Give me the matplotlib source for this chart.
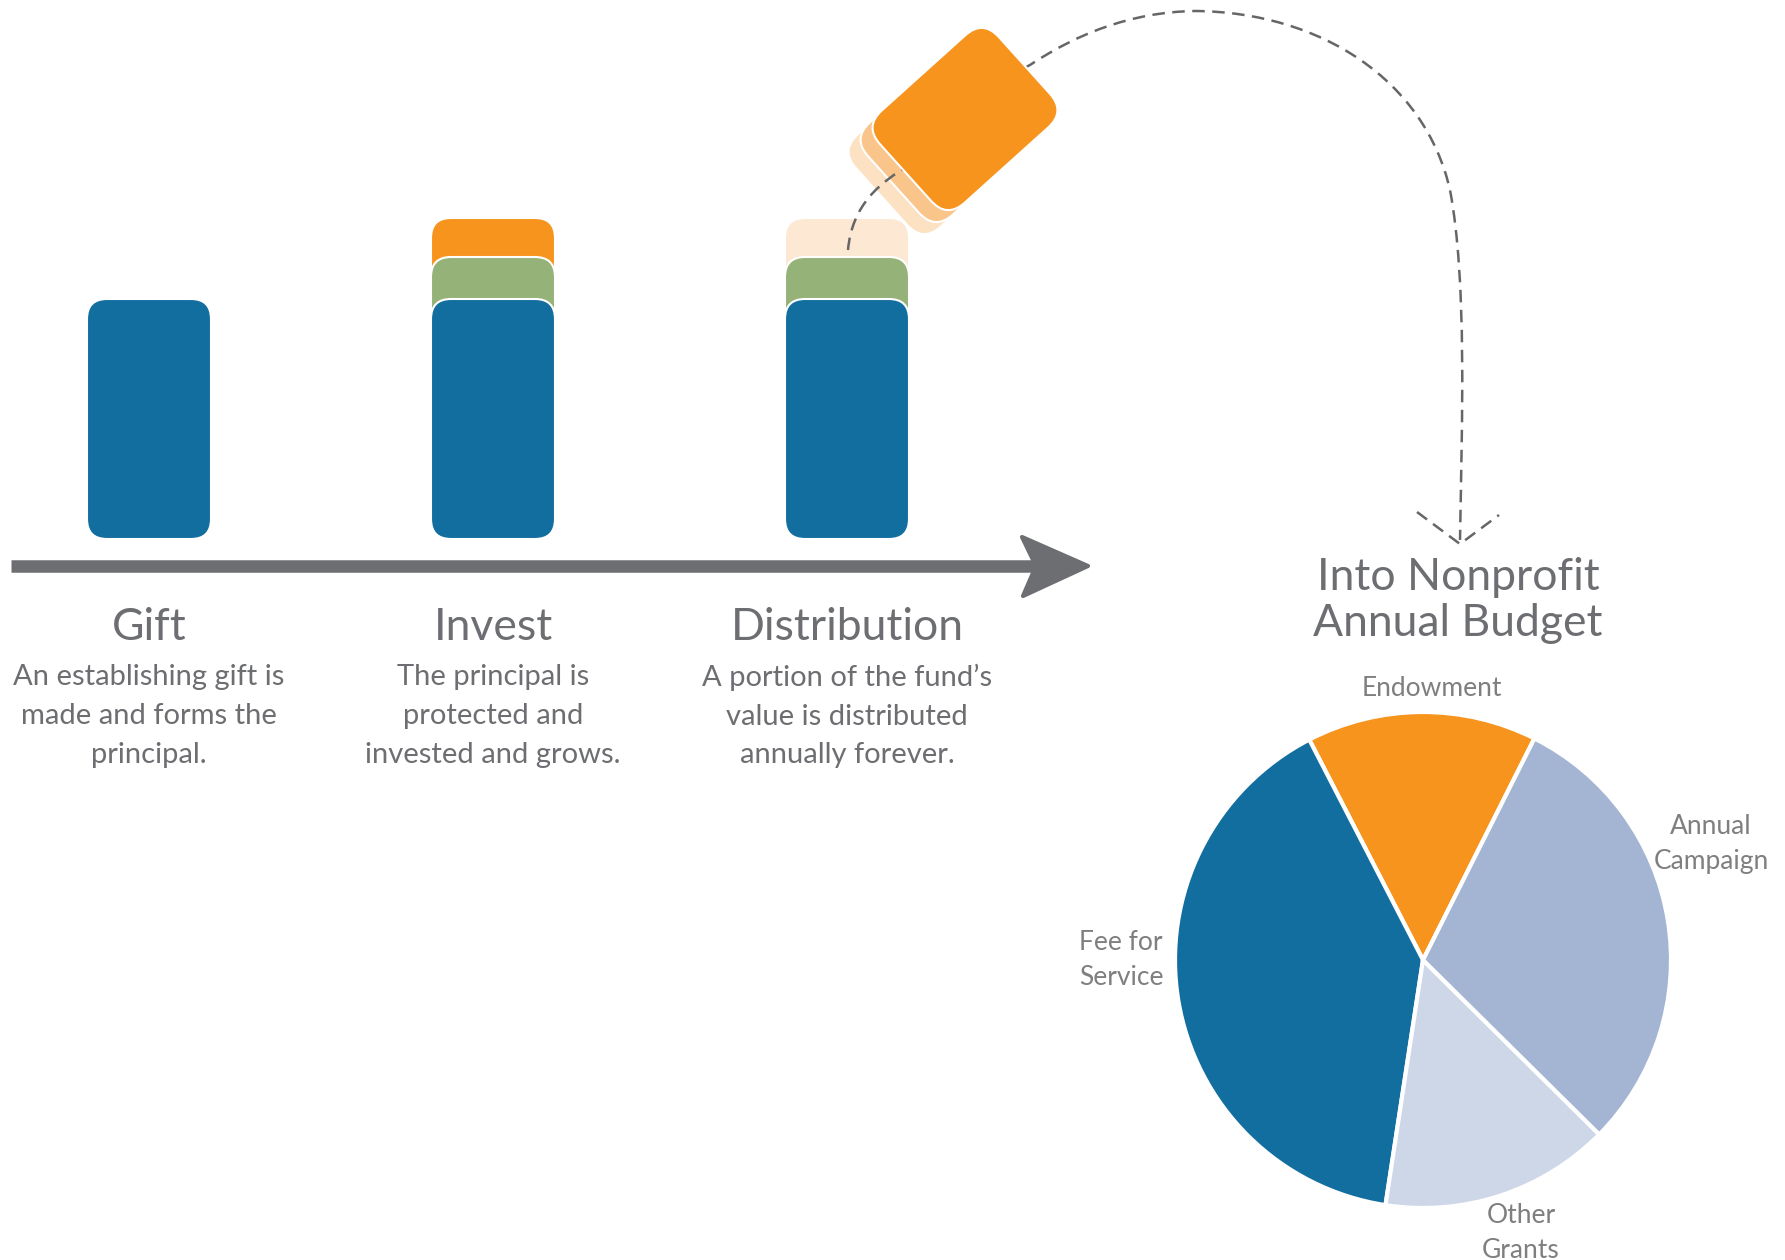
import numpy as np
import matplotlib.pyplot as plt
from matplotlib.patches import FancyBboxPatch, Polygon, PathPatch
from matplotlib.path import Path
import matplotlib.transforms as mtransforms

# stages of the fund (bar layers, in pixel-ish units)
stages = ["Gift", "Invest", "Distribution"]
descriptions = [
    "An establishing gift is\nmade and forms the\nprincipal.",
    "The principal is\nprotected and\ninvested and grows.",
    "A portion of the fund\u2019s\nvalue is distributed\nannually forever.",
]
principal = [240, 240, 240]
growth = [0, 42, 42]
payout = [0, 39, 39]
payout_colors = ["#F7941D", "#F7941D", "#FCE8D3"]

# annual budget pie
budget_labels = ["Endowment", "Fee for\nService", "Other\nGrants", "Annual\nCampaign"]
budget_values = [15, 40, 15, 30]
budget_colors = ["#F7941D", "#136EA0", "#CDD7E8", "#A3B5D3"]

W, H = 1785, 1260
BLUE = "#136EA0"
GREEN = "#95B278"
ORANGE = "#F7941D"
GRAY = "#6D6E71"

fig = plt.figure(figsize=(W / 100, H / 100), dpi=100)
ax = fig.add_axes([0, 0, 1, 1])
ax.set_xlim(0, W)
ax.set_ylim(H, 0)
ax.axis("off")

font = "Lato"

# bars
centers = [149, 493, 847]
bar_w = 124
base = 539
rad = 20
for i, c in enumerate(centers):
    x0 = c - bar_w / 2
    top_blue = base - principal[i]
    if payout[i]:
        top = top_blue - growth[i] - payout[i]
        ax.add_patch(FancyBboxPatch((x0, top), bar_w, 80, boxstyle=f"round,pad=0,rounding_size={rad}",
                                    fc=payout_colors[i], ec="white", lw=1.5, zorder=2))
    if growth[i]:
        top = top_blue - growth[i]
        ax.add_patch(FancyBboxPatch((x0, top), bar_w, 80, boxstyle=f"round,pad=0,rounding_size={rad}",
                                    fc=GREEN, ec="white", lw=1.5, zorder=3))
    ax.add_patch(FancyBboxPatch((x0, top_blue), bar_w, principal[i], boxstyle=f"round,pad=0,rounding_size={rad}",
                                fc=BLUE, ec="white", lw=1.5, zorder=4))
    ax.text(c, 627, stages[i], ha="center", va="center", fontsize=32, color=GRAY, family=font)
    ax.text(c, 716, descriptions[i], ha="center", va="center", fontsize=21, color=GRAY,
            family=font, linespacing=1.6)

# timeline arrow
ax.plot([11, 1035], [566, 566], color=GRAY, lw=9, solid_capstyle="butt", zorder=2)
ax.add_patch(Polygon([(1022, 537), (1088, 566), (1023, 596), (1036, 566)], closed=True,
                     fc=GRAY, ec=GRAY, lw=3, joinstyle="round", zorder=3))

# dashed path of the distribution to the budget
verts = [(848, 250),
         (852, 205), (880, 182), (910, 165),
         (960, 120), (1000, 80), (1030, 65),
         (1075, 35), (1130, 12), (1195, 11),
         (1320, 12), (1425, 80), (1450, 190),
         (1467, 280), (1462, 420), (1460, 540)]
codes = [Path.MOVETO] + [Path.CURVE4] * 15
ax.add_patch(PathPatch(Path(verts, codes), fc="none", ec="#666666", lw=1.8,
                       linestyle=(0, (5, 3)), zorder=5))
ax.plot([1417, 1460, 1499], [512, 544, 515], color="#666666", lw=1.8,
        linestyle=(0, (5, 3)), zorder=5)

# tilted payout block with ghost copies
bw, bh = 160, 124
cx, cy = 965, 119
ghosts = [(-24, 24, "#FCE1C2"), (-12, 12, "#F9C58A"), (0, 0, ORANGE)]
for dx, dy, col in ghosts:
    p = FancyBboxPatch((cx + dx - bw / 2, cy + dy - bh / 2), bw, bh,
                       boxstyle="round,pad=0,rounding_size=24", fc=col,
                       ec="white", lw=1.5, zorder=6 if dx == 0 else 4)
    rot = mtransforms.Affine2D().rotate_deg_around(cx + dx, cy + dy, -42)
    p.set_transform(rot + ax.transData)
    ax.add_patch(p)

# budget title
ax.text(1458, 577, "Into Nonprofit", ha="center", va="center", fontsize=32, color=GRAY, family=font)
ax.text(1458, 624, "Annual Budget", ha="center", va="center", fontsize=32, color=GRAY, family=font)

# pie
pcx, pcy, pr = 1423, 960, 248
pax = fig.add_axes([(pcx - pr) / W, (H - pcy - pr) / H, 2 * pr / W, 2 * pr / H])
pax.pie(budget_values, colors=budget_colors, startangle=63.3, counterclock=True,
        wedgeprops=dict(edgecolor="white", linewidth=3))
pax.set_xlim(-1, 1)
pax.set_ylim(-1, 1)
pax.axis("off")

label_pos = [(1432, 689), (1121, 960), (1521, 1233), (1711, 844)]
for lab, (lx, ly) in zip(budget_labels, label_pos):
    ax.text(lx, ly, lab, ha="center", va="center", fontsize=19, color="#7F7F7F",
            family=font, linespacing=1.5)

fig.savefig("out.png", dpi=100, facecolor="white")
